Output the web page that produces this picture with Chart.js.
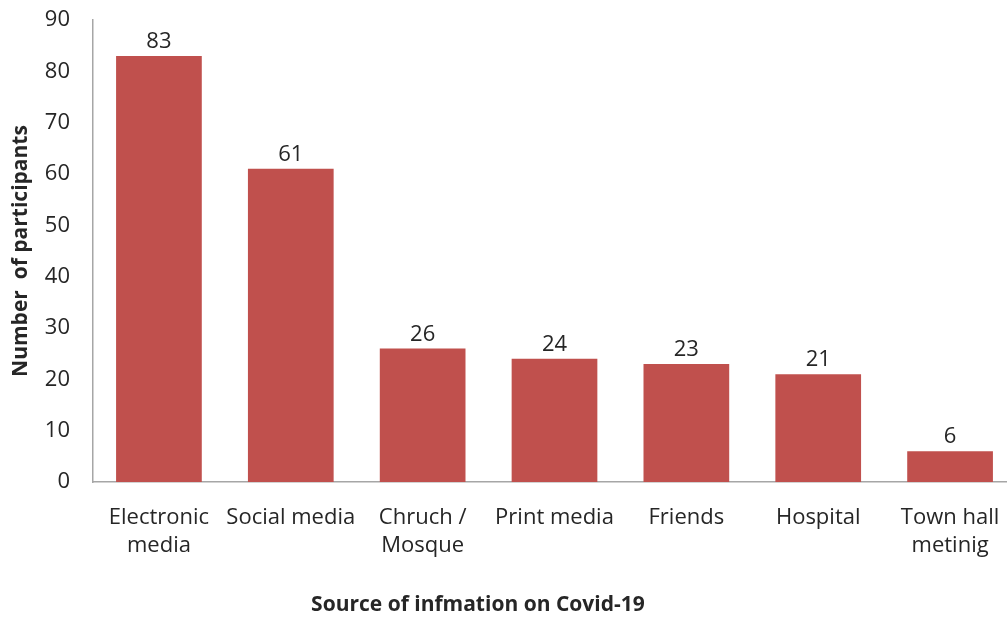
<!DOCTYPE html>
<html lang="en">
<head>
<meta charset="utf-8">
<script src="https://cdn.jsdelivr.net/npm/chart.js@4/dist/chart.umd.min.js"></script>
<style>
  html, body { margin: 0; padding: 0; background: #fff; overflow: hidden; }
</style>
</head>
<body>
<canvas id="canvas" width="1020" height="621"></canvas>
<script>
// chart data
var categories = [['Electronic', 'media'], 'Social media', ['Chruch /', 'Mosque'], 'Print media', 'Friends', 'Hospital', ['Town hall', 'metinig']];
var participants = [83, 61, 26, 24, 23, 21, 6];
var yTicks = [0, 10, 20, 30, 40, 50, 60, 70, 80, 90];
var xTitle = 'Source of infmation on Covid-19';
var yTitle = 'Number  of participants';

var textColor = '#262626';
var axisColor = '#a6a6a6';
var fontFamily = "'Open Sans'";

// value labels above the bars
var valueLabels = {
  id: 'valueLabels',
  afterDatasetsDraw: function(chart) {
    var ctx = chart.ctx;
    var meta = chart.getDatasetMeta(0);
    ctx.save();
    ctx.font = '22px ' + fontFamily;
    ctx.fillStyle = textColor;
    ctx.textAlign = 'center';
    ctx.textBaseline = 'alphabetic';
    meta.data.forEach(function(bar, i) {
      ctx.fillText(participants[i], bar.x, bar.y - 8);
    });
    ctx.restore();
  }
};

// x axis title sits left of centre in the original
var xTitlePlugin = {
  id: 'xTitlePlugin',
  afterDraw: function(chart) {
    var ctx = chart.ctx;
    var area = chart.chartArea;
    ctx.save();
    ctx.font = 'bold 21px ' + fontFamily;
    ctx.fillStyle = textColor;
    ctx.textAlign = 'center';
    ctx.textBaseline = 'middle';
    ctx.fillText(xTitle, area.left + (area.right - area.left) * 0.417, 605);
    ctx.restore();
  }
};

var ctx = document.getElementById('canvas').getContext('2d');
new Chart(ctx, {
  type: 'bar',
  data: {
    labels: categories,
    datasets: [{
      label: yTitle,
      data: participants,
      backgroundColor: '#c0504d',
      borderWidth: 0,
      categoryPercentage: 1,
      barPercentage: 0.65
    }]
  },
  options: {
    responsive: false,
    animation: false,
    layout: { padding: { left: 8, right: 4, top: 0, bottom: 62 } },
    plugins: {
      legend: { display: false },
      tooltip: { enabled: false }
    },
    scales: {
      x: {
        grid: { display: false },
        border: { display: true, color: axisColor, width: 1.5 },
        afterFit: function(axis) { axis.height = 77; },
        ticks: {
          color: textColor,
          font: { family: fontFamily, size: 22, lineHeight: 1.27 },
          padding: 14,
          maxRotation: 0,
          autoSkip: false
        }
      },
      y: {
        min: 0,
        max: 90,
        grid: { display: false },
        border: { display: true, color: axisColor, width: 1.5 },
        afterBuildTicks: function(axis) {
          axis.ticks = yTicks.map(function(v) { return { value: v }; });
        },
        afterFit: function(axis) {
          axis.width = 85;
          axis.paddingTop = 20;
          axis.paddingBottom = 0;
        },
        ticks: {
          color: textColor,
          font: { family: fontFamily, size: 22 },
          padding: 15
        },
        title: {
          display: true,
          text: yTitle,
          color: textColor,
          font: { family: fontFamily, size: 21, weight: 'bold' },
          padding: { top: 0, bottom: 0 }
        }
      }
    }
  },
  plugins: [valueLabels, xTitlePlugin]
});
</script>
</body>
</html>
